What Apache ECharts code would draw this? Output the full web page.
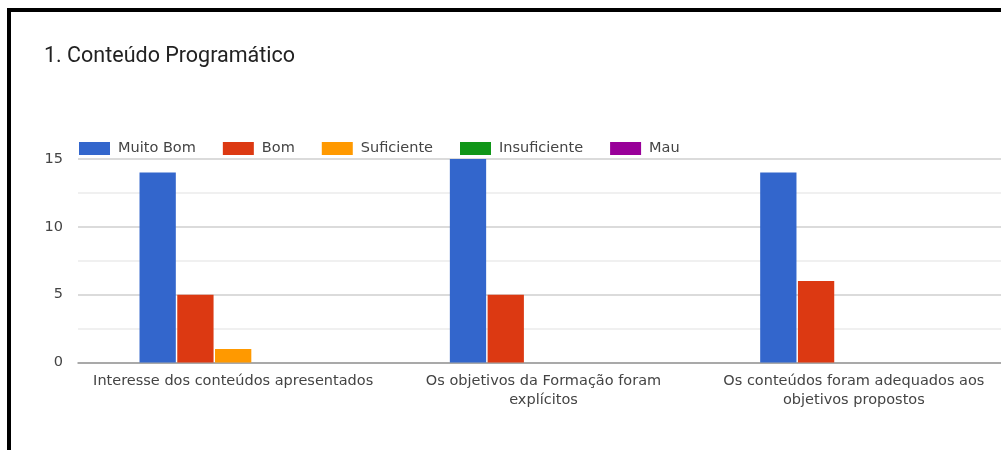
<!DOCTYPE html>
<html>
<head>
<meta charset="utf-8">
<script src="https://cdn.jsdelivr.net/npm/echarts@6/dist/echarts.min.js"></script>
<style>
  html, body { margin: 0; padding: 0; background: #fff; overflow: hidden; }
  #chart { width: 1001px; height: 450px; }
  #frame {
    position: absolute; left: 7px; top: 8px; width: 994px; height: 442px;
    border-top: 4px solid #000; border-left: 4px solid #000;
    pointer-events: none; box-sizing: border-box;
  }
</style>
</head>
<body>
<div id="chart"></div>
<div id="frame"></div>
<script>
// Survey answers per question, one array per rating level
const categories = [
  'Interesse dos conteúdos apresentados',
  'Os objetivos da Formação foram\nexplícitos',
  'Os conteúdos foram adequados aos\nobjetivos propostos'
];
const seriesNames = ['Muito Bom', 'Bom', 'Suficiente', 'Insuficiente', 'Mau'];
const muitoBom    = [14, 15, 14];
const bom         = [5, 5, 6];
const suficiente  = [1, 0, 0];
const insuficiente = [0, 0, 0];
const mau         = [0, 0, 0];
const yTicks = [0, 5, 10, 15];

const values = [muitoBom, bom, suficiente, insuficiente, mau];
const colors = ['#3366CC', '#DC3912', '#FF9900', '#109618', '#990099'];
const font = 'DejaVu Sans';

const chart = echarts.init(document.getElementById('chart'));
chart.setOption({
  animation: false,
  color: colors,
  title: {
    text: '1. Conteúdo Programático',
    left: 39, top: 41,
    textStyle: { fontFamily: 'Roboto', fontSize: 21.5, fontWeight: 'normal', color: '#222' }
  },
  legend: {
    data: seriesNames,
    left: 74, top: 136,
    icon: 'rect',
    itemWidth: 31, itemHeight: 13,
    itemGap: 27,
    textStyle: { fontFamily: font, fontSize: 14.5, color: '#444', padding: [0, 0, 0, 3] }
  },
  grid: { left: 78, right: -8, top: 159, bottom: 87.5, outerBoundsMode: 'none' },
  xAxis: {
    type: 'category',
    data: categories,
    axisTick: { show: false },
    axisLine: { lineStyle: { color: '#999', width: 1.5 } },
    axisLabel: { fontFamily: font, fontSize: 14.5, color: '#444', margin: 9, lineHeight: 19, interval: 0 }
  },
  yAxis: {
    type: 'value',
    min: yTicks[0], max: yTicks[yTicks.length - 1], interval: 5,
    axisLabel: { fontFamily: font, fontSize: 14.5, color: '#444', margin: 15 },
    splitLine: { lineStyle: { color: '#cfcfcf', width: 1.5 } },
    minorTick: { show: false, splitNumber: 2 },
    minorSplitLine: { show: true, lineStyle: { color: '#ececec', width: 1.5 } }
  },
  series: seriesNames.map((name, i) => ({
    name: name,
    type: 'bar',
    data: values[i],
    barWidth: 36.3,
    barGap: '4%',
    itemStyle: { color: colors[i] }
  }))
});
</script>
</body>
</html>
